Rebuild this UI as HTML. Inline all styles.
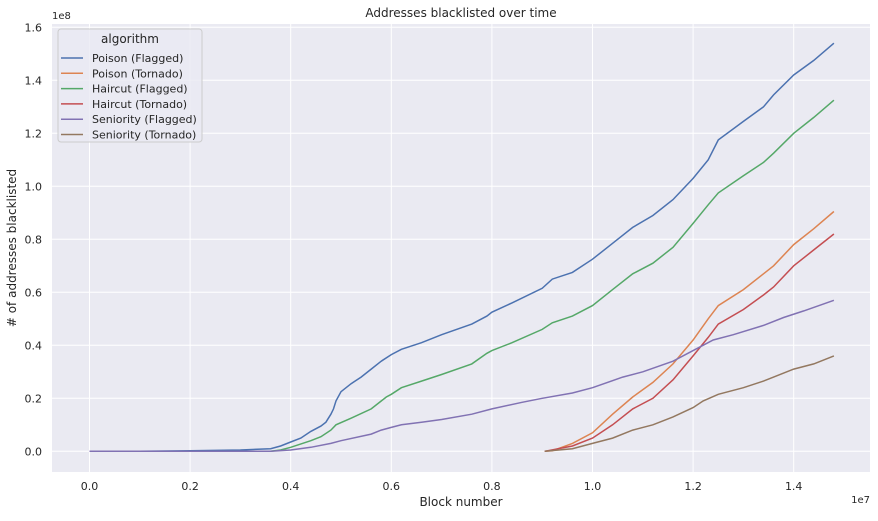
<!DOCTYPE html>
<html><head><meta charset="utf-8"><style>
body{margin:0;background:#fff;font-family:"Liberation Sans","DejaVu Sans",sans-serif;}
svg text{font-family:"DejaVu Sans","Liberation Sans",sans-serif;fill:#262626;}
</style></head><body>
<svg id="chart" width="878" height="516" xmlns="http://www.w3.org/2000/svg">
<rect x="52" y="24" width="818" height="448" fill="#eaeaf2"/>
<g id="grid"></g><g id="lines"></g><g id="ticks"></g>
<text x="461" y="17" font-size="12" text-anchor="middle">Addresses blacklisted over time</text>
<text x="461" y="506" font-size="12" text-anchor="middle">Block number</text>
<text transform="translate(16,248) rotate(-90)" font-size="12" text-anchor="middle"># of addresses blacklisted</text>
<text x="52" y="19" font-size="10">1e8</text>
<text x="870" y="503" font-size="10" text-anchor="end">1e7</text>
<g id="legend">
<rect x="58" y="29" width="144" height="113" rx="3" fill="#eaeaf2" fill-opacity="0.8" stroke="#cccccc"/>
<text x="130" y="43" font-size="12" text-anchor="middle">algorithm</text>
</g>
</svg>
<script>
const xTicks=[0,0.2,0.4,0.6,0.8,1.0,1.2,1.4];
const yTicks=[0,0.2,0.4,0.6,0.8,1.0,1.2,1.4,1.6];
const seriesNames=["Poison (Flagged)","Poison (Tornado)","Haircut (Flagged)","Haircut (Tornado)","Seniority (Flagged)","Seniority (Tornado)"];
const colors=["#4c72b0","#dd8452","#55a868","#c44e52","#8172b3","#937860"];
// x in units of 1e6 blocks, y in units of 1e8
const poisonFlaggedX=[0,1,2,3,3.6,3.8,4.0,4.2,4.4,4.6,4.7,4.8,4.85,4.9,5.0,5.2,5.4,5.6,5.8,6.0,6.2,6.6,7.0,7.6,7.9,8.0,8.4,9.0,9.2,9.6,10.0,10.4,10.8,11.2,11.6,12.0,12.3,12.5,13.0,13.4,13.6,14.0,14.4,14.8];
const poisonFlaggedY=[0,0,0.002,0.005,0.01,0.02,0.035,0.05,0.075,0.095,0.11,0.14,0.16,0.19,0.225,0.255,0.28,0.31,0.34,0.365,0.385,0.41,0.44,0.48,0.51,0.525,0.56,0.615,0.65,0.675,0.725,0.785,0.845,0.89,0.95,1.03,1.1,1.175,1.245,1.3,1.345,1.42,1.475,1.54];
const haircutFlaggedX=[0,3.6,3.8,4.0,4.4,4.6,4.8,4.9,5.2,5.6,5.9,6.0,6.2,6.6,7.0,7.6,7.9,8.0,8.4,9.0,9.2,9.6,10.0,10.4,10.8,11.2,11.6,12.0,12.3,12.5,13.0,13.4,13.6,14.0,14.4,14.8];
const haircutFlaggedY=[0,0,0.005,0.015,0.04,0.055,0.08,0.1,0.125,0.16,0.205,0.215,0.24,0.265,0.29,0.33,0.37,0.38,0.41,0.46,0.485,0.51,0.55,0.61,0.67,0.71,0.77,0.86,0.93,0.975,1.04,1.09,1.125,1.2,1.26,1.325];
const seniorityFlaggedX=[0,3.6,4.0,4.4,4.8,5.0,5.6,5.8,6.0,6.2,6.6,7.0,7.6,8.0,8.6,9.0,9.6,10.0,10.6,11.0,11.6,12.0,12.4,12.8,13.4,13.8,14.2,14.8];
const seniorityFlaggedY=[0,0,0.005,0.015,0.03,0.04,0.065,0.08,0.09,0.1,0.11,0.12,0.14,0.16,0.185,0.2,0.22,0.24,0.28,0.3,0.34,0.38,0.42,0.44,0.475,0.505,0.53,0.57];
const poisonTornadoX=[9.05,9.2,9.6,10.0,10.4,10.8,11.2,11.6,12.0,12.3,12.5,13.0,13.4,13.6,14.0,14.4,14.8];
const poisonTornadoY=[0,0.002,0.03,0.07,0.14,0.205,0.26,0.33,0.42,0.5,0.55,0.61,0.67,0.7,0.78,0.84,0.905];
const haircutTornadoX=[9.05,9.6,10.0,10.4,10.8,11.2,11.6,12.0,12.3,12.5,13.0,13.4,13.6,14.0,14.4,14.8];
const haircutTornadoY=[0,0.02,0.05,0.1,0.16,0.2,0.27,0.36,0.43,0.48,0.535,0.59,0.62,0.7,0.76,0.82];
const seniorityTornadoX=[9.05,9.6,10.0,10.4,10.8,11.2,11.6,12.0,12.2,12.5,13.0,13.4,13.6,14.0,14.4,14.8];
const seniorityTornadoY=[0,0.01,0.03,0.05,0.08,0.1,0.13,0.165,0.19,0.215,0.24,0.265,0.28,0.31,0.33,0.36];

const NS="http://www.w3.org/2000/svg";
const xs=v=>89.5+v*503;          // v in 1e7 units
const xsM=v=>xs(v/10);            // v in 1e6 units
const ys=v=>451.3-v*265;          // v in 1e8 units
const grid=document.getElementById('grid'),ticks=document.getElementById('ticks'),lines=document.getElementById('lines'),legend=document.getElementById('legend');
xTicks.forEach(t=>{
  const l=document.createElementNS(NS,'line');
  l.setAttribute('x1',xs(t));l.setAttribute('x2',xs(t));l.setAttribute('y1',24);l.setAttribute('y2',472);
  l.setAttribute('stroke','#fff');l.setAttribute('stroke-width','1');
  
  
  grid.appendChild(l);
  const tx=document.createElementNS(NS,'text');
  tx.setAttribute('x',xs(t));tx.setAttribute('y',490);tx.setAttribute('font-size','11');tx.setAttribute('text-anchor','middle');
  tx.textContent=t.toFixed(1);
  
  
  ticks.appendChild(tx);
});
yTicks.forEach(t=>{
  const l=document.createElementNS(NS,'line');
  l.setAttribute('x1',52);l.setAttribute('x2',870);l.setAttribute('y1',ys(t));l.setAttribute('y2',ys(t));
  l.setAttribute('stroke','#fff');l.setAttribute('stroke-width','1');
  
  
  grid.appendChild(l);
  const tx=document.createElementNS(NS,'text');
  tx.setAttribute('x',42);tx.setAttribute('y',ys(t)+4);tx.setAttribute('font-size','11');tx.setAttribute('text-anchor','end');
  tx.textContent=t.toFixed(1);
  
  
  ticks.appendChild(tx);
});
const series=[[poisonFlaggedX,poisonFlaggedY],[poisonTornadoX,poisonTornadoY],[haircutFlaggedX,haircutFlaggedY],[haircutTornadoX,haircutTornadoY],[seniorityFlaggedX,seniorityFlaggedY],[seniorityTornadoX,seniorityTornadoY]];
series.forEach((s,i)=>{
  const p=document.createElementNS(NS,'polyline');
  p.setAttribute('points',s[0].map((x,j)=>xsM(x).toFixed(1)+','+ys(s[1][j]).toFixed(1)).join(' '));
  p.setAttribute('fill','none');p.setAttribute('stroke',colors[i]);p.setAttribute('stroke-width','1.5');
  
  
  lines.appendChild(p);
  const ly=62+i*15.3;
  const l=document.createElementNS(NS,'line');
  l.setAttribute('x1',61);l.setAttribute('x2',83);l.setAttribute('y1',ly-4);l.setAttribute('y2',ly-4);
  l.setAttribute('stroke',colors[i]);l.setAttribute('stroke-width','1.5');
  
  
  legend.appendChild(l);
  const t=document.createElementNS(NS,'text');
  t.setAttribute('x',92);t.setAttribute('y',ly);t.setAttribute('font-size','11');
  t.textContent=seriesNames[i];
  
  
  legend.appendChild(t);
});
</script>
</body></html>
